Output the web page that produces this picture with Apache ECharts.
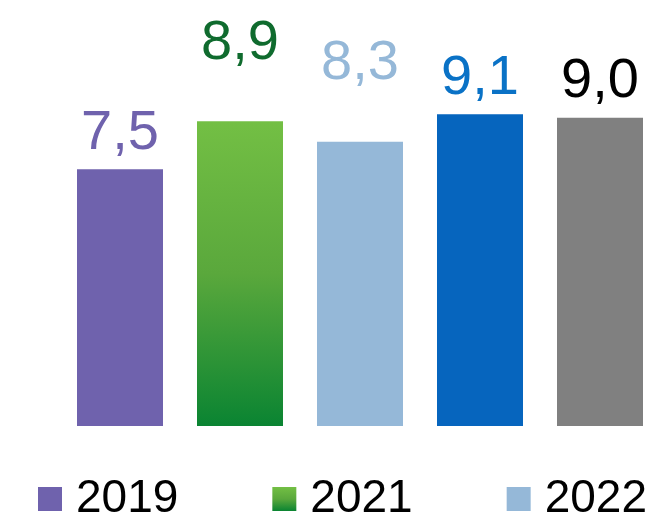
<!DOCTYPE html>
<html>
<head>
<meta charset="utf-8">
<script src="https://cdn.jsdelivr.net/npm/echarts@6/dist/echarts.min.js"></script>
<style>
  html, body { margin: 0; padding: 0; background: #fff; }
  #main { width: 651px; height: 520px; }
</style>
</head>
<body>
<div id="main"></div>
<script>
// bar names, values, colours
const names = ['2019', '2021', '2022', 'bar4', 'bar5'];
const values = [7.5, 8.9, 8.3, 9.1, 9.0];
const legendNames = ['2019', '2021', '2022'];
const labelColors = ['#6f62ad', '#0f6b2e', '#95b8d8', '#0a72c6', '#000000'];
const labelLift = [8, 50, 50, 8, 8];

const barColors = [
    '#6f62ad',
    new echarts.graphic.LinearGradient(0, 0, 0, 1, [
        { offset: 0, color: '#73bf44' },
        { offset: 0.5, color: '#5aa83c' },
        { offset: 1, color: '#0a8432' }
    ]),
    '#95b8d8',
    '#0665be',
    '#808080'
];

const myChart = echarts.init(document.getElementById('main'));

const series = names.map(function (n, i) {
    return {
        name: n,
        type: 'bar',
        stack: 'all',
        barWidth: 86,
        data: values.map(function (v, j) { return j === i ? v : '-'; }),
        itemStyle: { color: barColors[i] },
        label: {
            show: true,
            position: 'top',
            distance: labelLift[i],
            color: labelColors[i],
            fontFamily: 'Liberation Sans',
            fontSize: 56,
            formatter: function (p) { return String(p.value).replace('.', ',').replace(/^(\d)$/, '$1,0'); }
        }
    };
});

const option = {
    animation: false,
    grid: { left: 60, width: 600, top: 83.5, bottom: 94, outerBoundsMode: 'none', containLabel: false },
    xAxis: {
        type: 'category',
        data: names,
        show: false
    },
    yAxis: {
        type: 'value',
        min: 0,
        max: 10,
        show: false
    },
    legend: {
        data: legendNames,
        left: 33,
        top: 471,
        width: 700,
        padding: 5,
        icon: 'rect',
        itemWidth: 24,
        itemHeight: 24,
        itemGap: 94,
        textStyle: {
            fontFamily: 'Liberation Sans',
            fontSize: 46,
            color: '#000',
            padding: [0, 0, 0, 9]
        }
    },
    series: series
};

myChart.setOption(option);
</script>
</body>
</html>
